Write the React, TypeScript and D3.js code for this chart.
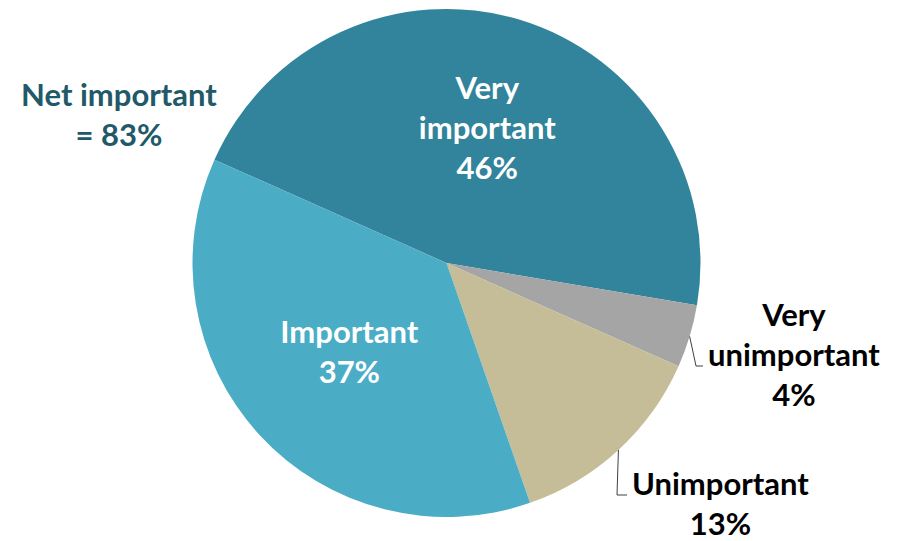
import React, { useEffect, useRef } from "react";
import * as d3 from "d3";

const categories = ["Very important", "Very unimportant", "Unimportant", "Important"];
const values = [46, 4, 13, 37];
const labelLines = [["Very", "important", "46%"], ["Very", "unimportant", "4%"], ["Unimportant", "13%"], ["Important", "37%"]];
const netLines = ["Net important", "= 83%"];

const COLORS = ["#31849B", "#A5A5A5", "#C4BD97", "#4BACC6"];
const W = 906, H = 541;
const CX = 446.5, CY = 263, R = 254;
const FONT = "Lato, 'Open Sans', sans-serif";
const FS = 31;
const LH = 40;

export default function App() {
  const ref = useRef<SVGSVGElement | null>(null);
  useEffect(() => {
    const svg = d3.select(ref.current);
    svg.selectAll("*").remove();
    const g = svg.append("g").attr("transform", `translate(${CX},${CY})`);
    const start = (-66 * Math.PI) / 180;
    const pie = d3.pie<number>().sort(null).value((d) => d).startAngle(start).endAngle(start + 2 * Math.PI);
    const arcs = pie(values);
    const arc = d3.arc<d3.PieArcDatum<number>>().innerRadius(0).outerRadius(R);
    g.selectAll("path.slice").data(arcs).enter().append("path")
      .attr("class", "slice")
      .attr("d", arc as any)
      .attr("fill", (_d, i) => COLORS[i]);

    const labelR: Record<number, number> = { 0: 141, 3: 132 };
    const outer = d3.arc<d3.PieArcDatum<number>>().innerRadius(R).outerRadius(R);

    // inside labels
    [0, 3].forEach((i) => {
      const inner = d3.arc<d3.PieArcDatum<number>>().innerRadius(labelR[i]).outerRadius(labelR[i]);
      const [x, y] = inner.centroid(arcs[i]);
      const lines = labelLines[i];
      const n = lines.length;
      const t = g.append("text").attr("text-anchor", "middle").attr("fill", "#ffffff")
        .attr("font-family", FONT).attr("font-weight", 700).attr("font-size", FS);
      lines.forEach((l, k) => {
        t.append("tspan").attr("x", x).attr("y", y + (k - (n - 1) / 2) * LH + FS * 0.35).text(l);
      });
    });

    // outside labels with leader lines
    const ends: Record<number, [number, number]> = { 1: [256.5, 103], 2: [180.5, 232] };
    const elbow: Record<number, number> = { 1: 7, 2: 10 };
    const midLine: Record<number, number> = { 1: 1, 2: 0 };
    [1, 2].forEach((i) => {
      const [sx, sy] = outer.centroid(arcs[i]);
      const [ex, ey] = ends[i];
      g.append("path")
        .attr("d", `M${sx},${sy}L${ex - elbow[i]},${ey}L${ex},${ey}`)
        .attr("fill", "none").attr("stroke", "#404040").attr("stroke-width", 1);
      const lines = labelLines[i];
      const t = g.append("text").attr("font-family", FONT).attr("font-weight", 700)
        .attr("font-size", FS).attr("fill", "#000000");
      const ref = t.append("tspan").text(lines[midLine[i]]);
      const w = (ref.node() as SVGTSpanElement).getComputedTextLength();
      ref.remove();
      const cx = ex + 5 + w / 2;
      t.attr("text-anchor", "middle");
      lines.forEach((l, k) => {
        t.append("tspan").attr("x", cx).attr("y", ey + (k - midLine[i]) * LH).text(l);
      });
    });

    // net important
    const nt = svg.append("text").attr("text-anchor", "middle").attr("fill", "#215968")
      .attr("font-family", FONT).attr("font-weight", 700).attr("font-size", FS);
    netLines.forEach((l, k) => {
      nt.append("tspan").attr("x", 119).attr("y", 106 + k * LH).text(l);
    });
  }, []);
  return (
    <svg ref={ref} width={W} height={H} style={{ position: "absolute", left: 0, top: 0, display: "block", background: "#fff" }} />
  );
}
